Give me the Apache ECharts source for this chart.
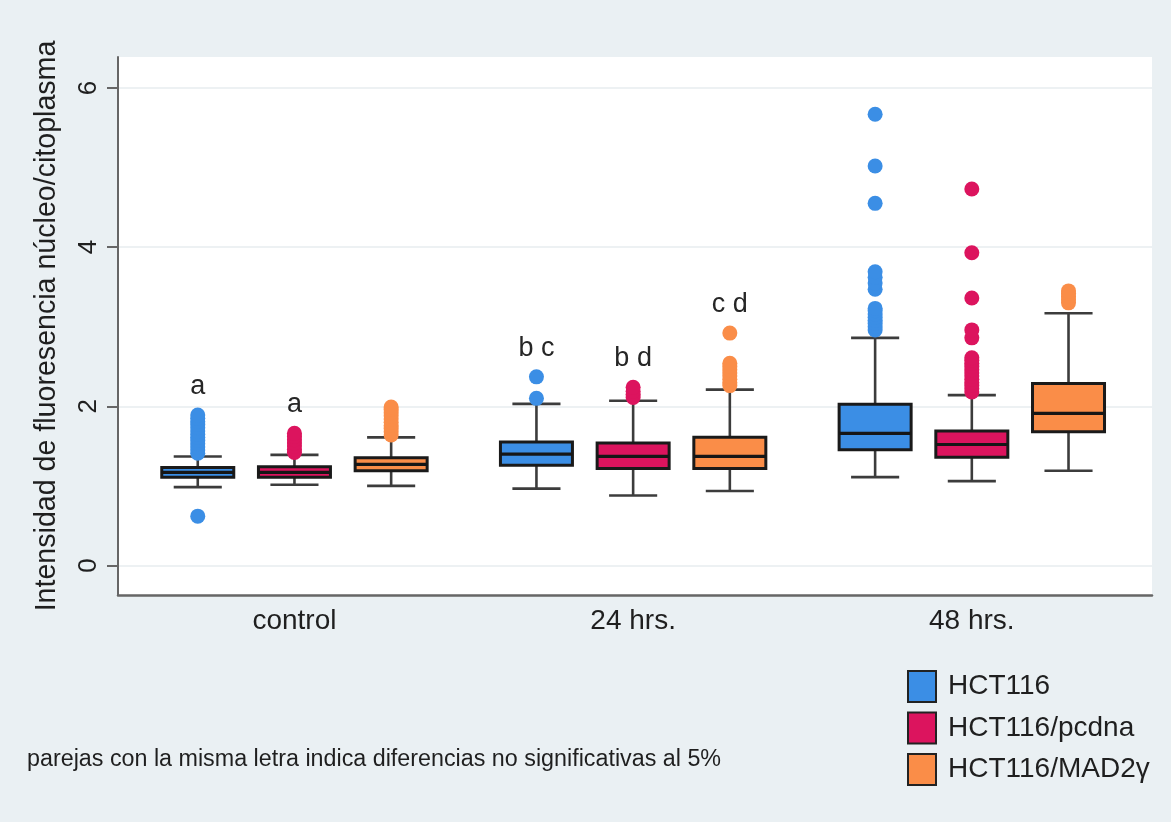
<!DOCTYPE html>
<html>
<head>
<meta charset="utf-8">
<script src="https://cdn.jsdelivr.net/npm/echarts@6/dist/echarts.min.js"></script>
<style>
  html, body { margin: 0; padding: 0; background: #eaf0f3; }
  #chart { width: 1171px; height: 822px; }
</style>
</head>
<body>
<div id="chart"></div>
<script>
// Groups along the x axis
const groups = ['control', '24 hrs.', '48 hrs.'];

// Cell lines
const lineNames = ['HCT116', 'HCT116/pcdna', 'HCT116/MAD2γ'];
const lineColors = ['#3b8ee5', '#dc145e', '#fa8d48'];

// Five-number summaries per group: [lower whisker, Q1, median, Q3, upper whisker]
const hct116Box = [
  [0.985, 1.107, 1.17, 1.23, 1.37],
  [0.965, 1.26, 1.40, 1.55, 2.03],
  [1.11, 1.455, 1.66, 2.025, 2.86]
];
const pcdnaBox = [
  [1.015, 1.11, 1.17, 1.24, 1.39],
  [0.88, 1.22, 1.37, 1.54, 2.07],
  [1.06, 1.36, 1.52, 1.69, 2.14]
];
const mad2Box = [
  [1.00, 1.19, 1.27, 1.355, 1.61],
  [0.935, 1.22, 1.37, 1.61, 2.21],
  [1.19, 1.68, 1.91, 2.285, 3.17]
];

// Outside values per group
const hct116Out = [
  [0.62, 1.41, 1.45, 1.49, 1.53, 1.57, 1.61, 1.65, 1.69, 1.73, 1.77, 1.81, 1.85, 1.89],
  [2.10, 2.37],
  [2.96, 3.00, 3.04, 3.08, 3.12, 3.16, 3.20, 3.23, 3.47, 3.55, 3.62, 3.69, 4.55, 5.02, 5.67]
];
const pcdnaOut = [
  [1.42, 1.46, 1.50, 1.54, 1.58, 1.62, 1.66],
  [2.11, 2.15, 2.19, 2.24],
  [2.18, 2.22, 2.26, 2.30, 2.34, 2.38, 2.42, 2.46, 2.50, 2.54, 2.58, 2.61, 2.86, 2.96, 3.36, 3.93, 4.73]
];
const mad2Out = [
  [1.64, 1.68, 1.72, 1.76, 1.80, 1.84, 1.88, 1.92, 1.96, 1.99],
  [2.26, 2.30, 2.34, 2.38, 2.42, 2.46, 2.50, 2.54, 2.92],
  [3.30, 3.34, 3.38, 3.42, 3.45]
];

// Letters of the pairwise comparisons
const hct116Letters = ['a', 'b c', ''];
const pcdnaLetters = ['a', 'b d', ''];
const mad2Letters = ['', 'c d', ''];

// Y-axis ticks
const yTicks = [0, 2, 4, 6];

const footnote = 'parejas con la misma letra indica diferencias no significativas al 5%';

const FONT = '"Liberation Sans", Arial, Helvetica, sans-serif';
const TEXT = '#1f1f1f';

const boxSets = [hct116Box, pcdnaBox, mad2Box];
const outSets = [hct116Out, pcdnaOut, mad2Out];
const letterSets = [hct116Letters, pcdnaLetters, mad2Letters];

// Position of each cell line inside a group, and box / cap widths, in group units
const SLOT = [-0.2855, 0, 0.2855];
const BOX_W = 0.2126;
const CAP_W = 0.142;

function boxRenderer(si) {
  return function (params, api) {
    const g = api.value(0);
    const unit = api.size([1, 0])[0];
    const cx = api.coord([g, 0])[0] + SLOT[si] * unit;
    const py = (i) => api.coord([g, api.value(i)])[1];
    const lo = py(1), q1 = py(2), md = py(3), q3 = py(4), hi = py(5), top = py(6);
    const hw = BOX_W * unit / 2;
    const hc = CAP_W * unit / 2;
    const whisk = { stroke: '#3c3c3c', lineWidth: 2.6 };
    const children = [
      { type: 'line', shape: { x1: cx, y1: q3, x2: cx, y2: hi }, style: whisk },
      { type: 'line', shape: { x1: cx, y1: q1, x2: cx, y2: lo }, style: whisk },
      { type: 'line', shape: { x1: cx - hc, y1: hi, x2: cx + hc, y2: hi }, style: whisk },
      { type: 'line', shape: { x1: cx - hc, y1: lo, x2: cx + hc, y2: lo }, style: whisk },
      { type: 'rect', shape: { x: cx - hw, y: q3, width: 2 * hw, height: q1 - q3 },
        style: { fill: lineColors[si], stroke: '#1a1a1a', lineWidth: 3 } },
      { type: 'line', shape: { x1: cx - hw, y1: md, x2: cx + hw, y2: md },
        style: { stroke: '#161616', lineWidth: 3.2 } }
    ];
    const letter = letterSets[si][params.dataIndex];
    if (letter) {
      children.push({
        type: 'text',
        style: {
          x: cx, y: top - 15, text: letter, fill: '#262626',
          font: '27px ' + FONT, align: 'center', verticalAlign: 'bottom'
        }
      });
    }
    return { type: 'group', children };
  };
}

function outlierRenderer(si) {
  return function (params, api) {
    const g = api.value(0);
    const unit = api.size([1, 0])[0];
    const p = api.coord([g, api.value(1)]);
    return {
      type: 'circle',
      shape: { cx: p[0] + SLOT[si] * unit, cy: p[1], r: 7.5 },
      style: { fill: lineColors[si] }
    };
  };
}

const series = [];
boxSets.forEach((set, si) => {
  series.push({
    name: lineNames[si],
    type: 'custom',
    z: 2,
    itemStyle: { color: lineColors[si] },
    renderItem: boxRenderer(si),
    encode: { x: 0, y: [1, 2, 3, 4, 5] },
    data: set.map((b, g) => [g, ...b, Math.max(b[4], ...outSets[si][g])])
  });
});
outSets.forEach((set, si) => {
  const pts = [];
  set.forEach((vals, g) => vals.forEach((v) => pts.push([g, v])));
  series.push({
    name: lineNames[si],
    type: 'custom',
    z: 3,
    itemStyle: { color: lineColors[si] },
    renderItem: outlierRenderer(si),
    encode: { x: 0, y: 1 },
    data: pts
  });
});

const chart = echarts.init(document.getElementById('chart'), null, { renderer: 'canvas' });
chart.setOption({
  backgroundColor: '#eaf0f3',
  animation: false,
  textStyle: { fontFamily: FONT },
  title: {
    text: footnote,
    left: 22, top: 743,
    textStyle: { fontSize: 23.3, fontWeight: 'normal', color: TEXT, fontFamily: FONT }
  },
  legend: {
    orient: 'vertical',
    left: 902, top: 665,
    icon: 'rect',
    itemWidth: 28, itemHeight: 31, itemGap: 8.5,
    selectedMode: false,
    data: lineNames,
    itemStyle: { borderColor: '#222', borderWidth: 2 },
    textStyle: { fontSize: 28, color: TEXT, fontFamily: FONT, padding: [0, 0, 0, 7] }
  },
  grid: {
    left: 118, right: 19, top: 57, bottom: 227,
    show: true, backgroundColor: '#ffffff', borderWidth: 0
  },
  xAxis: {
    type: 'value',
    min: -0.521, max: 2.532,
    axisLine: { onZero: false, lineStyle: { color: '#666', width: 2.5 } },
    axisTick: { show: false },
    splitLine: { show: false },
    axisLabel: {
      customValues: [0, 1, 2],
      formatter: (v) => groups[v],
      fontSize: 28, color: TEXT, margin: 12, fontFamily: FONT
    }
  },
  yAxis: {
    type: 'value',
    min: -0.371, max: 6.389,
    name: 'Intensidad de fluoresencia núcleo/citoplasma',
    nameLocation: 'middle',
    nameGap: 56,
    nameTextStyle: { fontSize: 28.6, color: TEXT, fontFamily: FONT },
    axisLine: { show: true, onZero: false, lineStyle: { color: '#666', width: 2 } },
    axisTick: { show: true, length: 11, customValues: yTicks, lineStyle: { color: '#666', width: 2 } },
    axisLabel: {
      customValues: yTicks, rotate: 90, margin: 16,
      fontSize: 26, color: TEXT, fontFamily: FONT
    },
    splitLine: { show: true, lineStyle: { color: '#edf1f3', width: 2 } }
  },
  series
});
</script>
</body>
</html>
